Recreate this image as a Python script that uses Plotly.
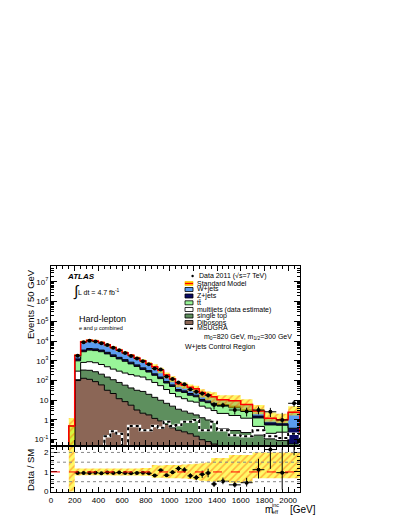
import numpy as np
import plotly.graph_objects as go

# ---------------- data ----------------
bin_edges = [150, 200, 250, 300, 350, 400, 450, 500, 550, 600, 650, 700, 750, 800,
             850, 900, 950, 1000, 1050, 1100, 1150, 1200, 1250, 1300, 1350, 1400,
             1500, 1600, 1700, 1800, 1900, 2000, 2100]

wjets = [0, 650, 5800, 6800, 6000, 5000, 3800, 2800, 2000, 1450, 1050, 780, 560, 400,
         280, 180, 100, 60, 33, 28, 23, 20, 14, 10, 8, 4.5, 4.5, 2.8, 1.3, 0.5, 0.4, 2.1]
zjets = [0, 250, 600, 700, 700, 600, 450, 350, 250, 200, 150, 100, 80, 50,
         35, 25, 15, 10, 6, 5, 4, 3, 2, 1.5, 1, 1, 0.8, 0.5, 0.3, 0.15, 0.1, 0.32]
ttbar = [0.5, 700, 2070, 2600, 2500, 2250, 1750, 1270, 950, 710, 500, 350, 210, 160,
         105, 70, 40, 28, 14, 13, 9, 7, 4, 3.5, 3, 2.9, 2.5, 1.5, 0.8, 0.35, 0.3, 0.03]
multijets = [0, 190, 490, 570, 520, 440, 350, 270, 220, 182, 158, 138, 122, 90,
             66, 45, 28, 17, 11.5, 9.2, 6.8, 6.2, 3.7, 3.0, 2.2, 1.8, 1.4, 1.0, 0.3, 0.1, 0.15, 0.01]
singletop = [0, 10, 210, 215, 192, 150, 118, 88, 68, 49.5, 36.4, 28.8, 25.8, 18.2,
             12.8, 9.1, 6.4, 4.6, 3.2, 2.55, 2.0, 1.65, 1.2, 0.92, 0.74, 0.3, 0.25, 0.2, 0.15, 0.1, 0.08, 0.02]
dibosons = [0, 100, 130, 115, 88, 60, 32, 22, 12, 8.5, 5.6, 3.2, 2.2, 1.8,
            1.2, 0.9, 0.6, 0.4, 0.3, 0.25, 0.2, 0.15, 0.1, 0.08, 0.06, 0.05, 0.04, 0.03, 0.02, 0.01, 0.01, 0.0]

msugra = [0, 0, 0, 0, 0, 0, 0.15, 0.27, 0.2, 0, 0.5, 0.5, 0.3, 0.3,
          0.5, 0.4, 0.8, 0.5, 0.55, 0.8, 0.8, 1.0, 0.3, 0.3, 0.8, 0.3, 0.17, 0.15, 0.3, 0.15, 0.12, 0.2]

data_vals = [np.nan, 1800, 8800, 10400, 9600, 7900, 6300, 4550, 3400, 2470, 1770, 1330, 960, 670,
             410, 360, 158, 118, 80, 64, 36, 27, 22, 18, 5.7, 5.5, 3.2, 2.7, 3.2, 2.6, 1.0, 7.0]
data_err_up = [0, 42, 94, 102, 98, 89, 79, 67, 58, 50, 42, 36, 31, 26,
               20, 19, 13, 11, 9, 8, 6, 5.2, 4.7, 4.2, 2.4, 2.0, 1.6, 1.5, 1.6, 1.5, 1.3, 2.8]
data_err_dn = [0, 42, 94, 102, 98, 89, 79, 67, 58, 50, 42, 36, 31, 26,
               20, 19, 13, 11, 9, 8, 6, 5.2, 4.7, 4.2, 2.3, 1.6, 1.3, 1.2, 1.3, 1.2, 0.9, 2.4]

# relative systematic uncertainty of the SM prediction (up / down)
unc_up = [1.5, 0.18, 0.17, 0.17, 0.17, 0.17, 0.17, 0.18, 0.18, 0.18, 0.18, 0.18, 0.2, 0.2,
          0.35, 0.33, 0.36, 0.36, 0.36, 0.38, 0.4, 0.42, 0.45, 0.48, 0.72, 0.72, 0.87, 0.87, 1.0, 1.0, 1.0, 1.0]
unc_dn = [1.0, 0.18, 0.17, 0.17, 0.17, 0.17, 0.17, 0.18, 0.18, 0.18, 0.18, 0.18, 0.2, 0.2,
          0.3, 0.3, 0.32, 0.32, 0.32, 0.34, 0.36, 0.4, 0.45, 0.48, 0.5, 0.5, 0.56, 0.56, 0.32, 0.32, 0.32, 0.32]

main_ticks = [0.1, 1, 10, 100, 1e3, 1e4, 1e5, 1e6, 1e7]
main_ticktext = ["10<sup>-1</sup>", "1", "10", "10<sup>2</sup>", "10<sup>3</sup>",
                 "10<sup>4</sup>", "10<sup>5</sup>", "10<sup>6</sup>", "10<sup>7</sup>"]
x_ticks = [0, 200, 400, 600, 800, 1000, 1200, 1400, 1600, 1800, 2000]

# ---------------- helpers ----------------
FONT = "Liberation Sans, Arial, Helvetica, sans-serif"
TINY = 1e-4
edges = np.array(bin_edges, dtype=float)
centers = 0.5 * (edges[:-1] + edges[1:])
halfw = 0.5 * (edges[1:] - edges[:-1])


def step(vals, floor=TINY):
    v = np.maximum(np.asarray(vals, dtype=float), floor)
    x = np.concatenate([[edges[0]], edges, [edges[-1]]])
    y = np.concatenate([[floor], v, [v[-1], floor]])
    return x, y


layers = [
    ("Dibosons", dibosons, "#8b6656"),
    ("single top", singletop, "#5e8f5e"),
    ("multijets", multijets, "#ffffff"),
    ("ttbar", ttbar, "#99f599"),
    ("Z+jets", zjets, "#0a0a64"),
    ("W+jets", wjets, "#5b9cf0"),
]
cum = np.cumsum(np.vstack([np.asarray(l[1], dtype=float) for l in layers]), axis=0)
sm_total = cum[-1]

fig = go.Figure()

bx, by = step(np.full(len(centers), TINY))
fig.add_trace(go.Scatter(x=bx, y=by, mode="lines", line=dict(width=0, shape="hv"),
                         showlegend=False, hoverinfo="skip", xaxis="x", yaxis="y"))
for i, (name, _, col) in enumerate(layers):
    sx, sy = step(cum[i])
    fig.add_trace(go.Scatter(x=sx, y=sy, mode="lines", name=name,
                             line=dict(color="black", width=1, shape="hv"),
                             fill="tonexty", fillcolor=col, showlegend=False,
                             xaxis="x", yaxis="y"))

lo = sm_total * (1 - np.array(unc_dn))
hi = sm_total * (1 + np.array(unc_up))
lx, ly = step(lo)
hx, hy = step(hi)
pattern = dict(shape="/", fgcolor="rgba(255,80,0,0.85)", bgcolor="rgba(255,245,0,0.6)",
               size=5, solidity=0.3)
fig.add_trace(go.Scatter(x=lx, y=ly, mode="lines", line=dict(width=0, shape="hv"),
                         showlegend=False, hoverinfo="skip", xaxis="x", yaxis="y"))
fig.add_trace(go.Scatter(x=hx, y=hy, mode="lines", line=dict(width=0, shape="hv"),
                         fill="tonexty", fillpattern=pattern, fillcolor="rgba(255,245,0,0.6)",
                         showlegend=False, hoverinfo="skip", xaxis="x", yaxis="y"))

tx, ty = step(sm_total)
fig.add_trace(go.Scatter(x=tx, y=ty, mode="lines", line=dict(color="red", width=1.5, shape="hv"),
                         showlegend=False, xaxis="x", yaxis="y"))

mx, my = step(msugra, floor=1e-3)
fig.add_trace(go.Scatter(x=mx, y=my, mode="lines", line=dict(color="white", width=2.5, shape="hv"),
                         showlegend=False, hoverinfo="skip", xaxis="x", yaxis="y"))
fig.add_trace(go.Scatter(x=mx, y=my, mode="lines",
                         line=dict(color="black", width=2, shape="hv", dash="dot"),
                         showlegend=False, xaxis="x", yaxis="y"))

dv = np.array(data_vals, dtype=float)
fig.add_trace(go.Scatter(x=centers, y=dv, mode="markers",
                         marker=dict(color="black", size=4),
                         error_y=dict(type="data", symmetric=False, array=data_err_up,
                                      arrayminus=data_err_dn, thickness=1, width=0, color="black"),
                         error_x=dict(type="data", array=halfw, thickness=1, width=0, color="black"),
                         showlegend=False, xaxis="x", yaxis="y"))

# ---------------- ratio panel ----------------
rlo = np.maximum(1 - np.array(unc_dn), 0)
rhi = 1 + np.array(unc_up)
rlx, rly = step(rlo, floor=-1)
rhx, rhy = step(rhi, floor=-1)
fig.add_trace(go.Scatter(x=rlx, y=rly, mode="lines", line=dict(width=0, shape="hv"),
                         showlegend=False, hoverinfo="skip", xaxis="x2", yaxis="y2"))
fig.add_trace(go.Scatter(x=rhx, y=rhy, mode="lines", line=dict(width=0, shape="hv"),
                         fill="tonexty", fillpattern=pattern, fillcolor="rgba(255,245,0,0.6)",
                         showlegend=False, hoverinfo="skip", xaxis="x2", yaxis="y2"))
ratio = dv / sm_total
fig.add_trace(go.Scatter(x=centers, y=ratio, mode="markers",
                         marker=dict(color="black", size=4),
                         error_y=dict(type="data", symmetric=False,
                                      array=np.array(data_err_up) / sm_total,
                                      arrayminus=np.array(data_err_dn) / sm_total,
                                      thickness=1, width=0, color="black"),
                         error_x=dict(type="data", array=halfw, thickness=1, width=0, color="black"),
                         showlegend=False, xaxis="x2", yaxis="y2"))

# ---------------- layout ----------------
# the page body adds an 8 px offset; all positions below are in page pixels
OFF = 8
FIG_W, FIG_H = 407 - OFF, 527 - 2 * OFF
L, R, T, B = 51, 300, 266, 492          # plot area in page pixels
W_, H_ = R - L, B - T


def px(x):
    return (x - L) / W_


def py(y):
    return (B - y) / H_


axis_common = dict(showline=True, linecolor="black", linewidth=1, mirror="ticks",
                   ticks="inside", tickcolor="black", showgrid=False, zeroline=False,
                   tickfont=dict(family=FONT, size=8, color="black"))

fig.update_layout(
    width=FIG_W, height=FIG_H,
    margin=dict(l=L - OFF, r=FIG_W - (R - OFF), t=T - OFF, b=FIG_H - (B - OFF)),
    paper_bgcolor="white", plot_bgcolor="white",
    showlegend=False,
    xaxis=dict(domain=[0, 1], anchor="y", range=[0, 2100], showticklabels=False,
               tickvals=x_ticks, ticklen=5,
               minor=dict(dtick=50, tick0=0, ticks="inside", ticklen=3, tickcolor="black"),
               **axis_common),
    yaxis=dict(domain=[py(445), 1], anchor="x", type="log", range=[-1.27, 7.81],
               tickvals=main_ticks, ticktext=main_ticktext, ticklen=6,
               minor=dict(tickvals=[k * 10.0 ** d for d in range(-2, 8) for k in range(2, 10)],
                          ticks="inside", ticklen=3, tickcolor="black"),
               **axis_common),
    xaxis2=dict(domain=[0, 1], anchor="y2", range=[0, 2100], matches="x",
                tickvals=x_ticks, ticktext=[str(v) for v in x_ticks], ticklen=5,
                minor=dict(dtick=50, tick0=0, ticks="inside", ticklen=3, tickcolor="black"),
                **axis_common),
    yaxis2=dict(domain=[0, py(447)], anchor="x2", range=[-0.03, 2.28],
                tickvals=[0, 1, 2], ticklen=6,
                minor=dict(dtick=0.2, tick0=0, ticks="inside", ticklen=3, tickcolor="black"),
                **axis_common),
)

shapes = [
    dict(type="line", xref="x2 domain", yref="y2", x0=0, x1=1, y0=1, y1=1,
         line=dict(color="red", width=1, dash="dash"), layer="above"),
]
for yv in (0.5, 1.5, 2.0):
    shapes.append(dict(type="line", xref="x2 domain", yref="y2", x0=0, x1=1, y0=yv, y1=yv,
                       line=dict(color="#888888", width=1, dash="dot"), layer="above"))

leg_boxes = [
    (283.5, "rgba(255,245,0,1)", "#ffcc00"),
    (289.5, "#5b9cf0", "black"),
    (296.0, "#0a0a64", "black"),
    (302.8, "#99f599", "black"),
    (309.5, "#ffffff", "black"),
    (316.0, "#5e8f5e", "black"),
    (322.5, "#8b6656", "black"),
]
for yc, fc, lc in leg_boxes:
    shapes.append(dict(type="rect", xref="paper", yref="paper",
                       x0=px(185), x1=px(193), y0=py(yc + 2), y1=py(yc - 2),
                       fillcolor=fc, line=dict(color=lc, width=0.8)))
shapes.append(dict(type="line", xref="paper", yref="paper", x0=px(185), x1=px(193),
                   y0=py(283.5), y1=py(283.5), line=dict(color="red", width=1.5)))
shapes.append(dict(type="line", xref="paper", yref="paper", x0=px(184), x1=px(194),
                   y0=py(328.5), y1=py(328.5), line=dict(color="black", width=1.5, dash="dot")))
shapes.append(dict(type="circle", xref="paper", yref="paper", x0=px(191.4), x1=px(193.8),
                   y0=py(277.2), y1=py(274.8), fillcolor="black", line=dict(color="black", width=0)))

fig.update_layout(shapes=shapes)

ann = []


def text(x, y, s, size=7, xanchor="left", yanchor="middle", angle=0):
    ann.append(dict(x=px(x), y=py(y), xref="paper", yref="paper", text=s, showarrow=False,
                    xanchor=xanchor, yanchor=yanchor, textangle=angle,
                    font=dict(family=FONT, size=size, color="black")))


leg_texts = [
    (197, 276.0, "Data 2011 (√s=7 TeV)"),
    (194.5, 283.0, "Standard Model"),
    (194.5, 289.3, "W+jets"),
    (194.5, 295.6, "Z+jets"),
    (194.5, 302.0, "tt̄"),
    (194.5, 309.5, "multijets (data estimate)"),
    (194.5, 315.6, "single top"),
    (194.5, 322.0, "Dibosons"),
    (194.5, 327.8, "MSUGRA"),
    (201.5, 336.8, "m<sub>0</sub>=820 GeV, m<sub>1/2</sub>=300 GeV"),
    (183.0, 347.3, "W+jets Control Region"),
]
for x, y, s in leg_texts:
    text(x, y, s, size=7)

text(65, 276.5, "<b><i>ATLAS</i></b>", size=8)
text(70.5, 290.5, "∫", size=15)
text(76, 291.5, "L dt = 4.7 fb<sup>-1</sup>", size=7)
text(76.5, 318.5, "Hard-lepton", size=9)
text(76.5, 327.8, "e and μ combined", size=5.5)

text(30, 267, "Events / 50 GeV", size=9.5, xanchor="center", yanchor="top", angle=-90)
text(30, 470, "Data / SM", size=9.5, xanchor="center", yanchor="middle", angle=-90)

text(263, 509, "m", size=10)
text(270, 504.5, "inc", size=5.5)
text(270, 511.5, "eff", size=5.5)
text(318, 509, "[GeV]", size=10, xanchor="right")

fig.update_layout(annotations=ann)

fig.write_html("out.html")
